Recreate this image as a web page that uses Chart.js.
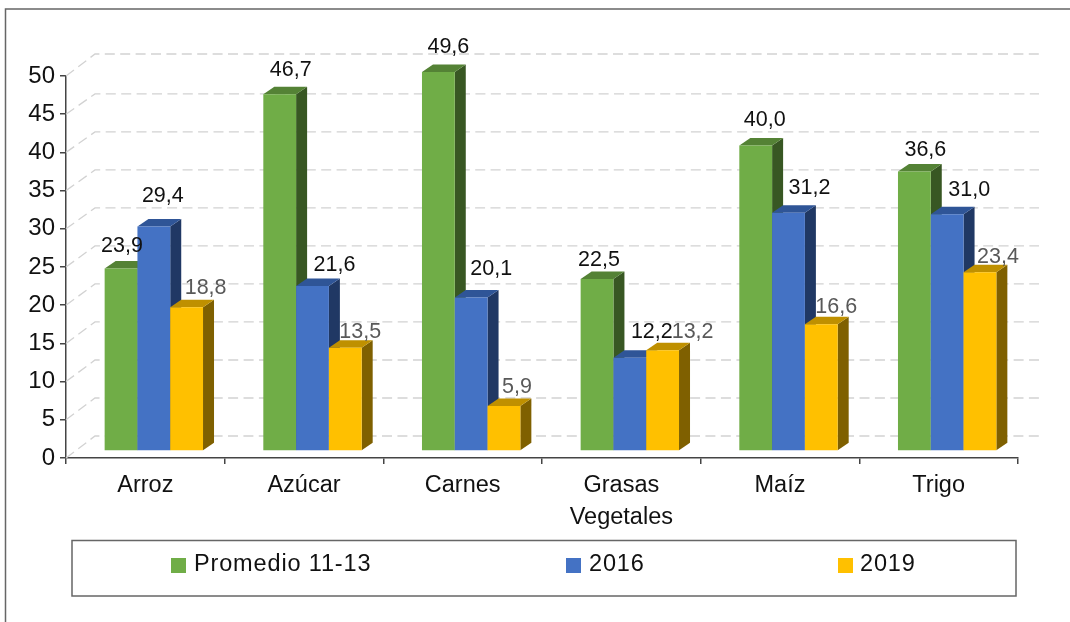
<!DOCTYPE html>
<html><head><meta charset="utf-8">
<style>html,body{margin:0;padding:0;background:#fff}canvas{display:block}</style>
<script src="https://cdn.jsdelivr.net/npm/chart.js@4"></script>
</head><body><canvas id="c" width="1070" height="622"></canvas>
<script>
const categories = [['Arroz'],['Azúcar'],['Carnes'],['Grasas','Vegetales'],['Maíz'],['Trigo']];
const promedio = [23.9,46.7,49.6,22.5,40.0,36.6];
const y2016 = [29.4,21.6,20.1,12.2,31.2,31.0];
const y2019 = [18.8,13.5,5.9,13.2,16.6,23.4];
const seriesNames = ['Promedio 11-13','2016','2019'];
const yTicks = [0,5,10,15,20,25,30,35,40,45,50];

const FONT = '"Liberation Sans", Arial, sans-serif';
const front = ['#70AD47','#4472C4','#FFC000'];
const side = ['#385723','#203864','#7F6000'];
const top3d = ['#548235','#2F5597','#BF9000'];
const labelColor = ['#111111','#111111','#595959'];
const labelShift = [
  [[1,-24],[11,-26],[10,-27],[2,-21],[9,-27],[11,-23]],
  [[9,-32],[22,-23],[20,-30],[22,-28],[21,-27],[22,-26]],
  [[19,-21],[15,-18],[13,-21],[30,-20],[15,-19],[18,-17]]
];
const OFF = {x:8.5,y:-7}, DEPTH = {x:11,y:-7.5}, WALL = {x:29,y:-22,scale:0.995}, WALL_RIGHT = 1039;

const threeD = {
  id:'threeD',
  beforeDatasetsDraw(chart){
    const {ctx,scales:{y},chartArea:a} = chart;
    ctx.save();
    ctx.strokeStyle='#d2d2d2'; ctx.lineWidth=1.3; ctx.setLineDash([10,5.4]);
    yTicks.forEach(v=>{
      const p=y.getPixelForValue(v);
      const back = v===y.max ? p+WALL.y : a.bottom+WALL.y-(a.bottom-p)*WALL.scale;
      ctx.beginPath(); ctx.moveTo(a.left,p); ctx.lineTo(a.left+WALL.x,back); ctx.lineTo(WALL_RIGHT,back); ctx.stroke();
    });
    ctx.restore();
  },
  beforeDatasetDraw(){ return false; },
  afterDatasetsDraw(chart){
    const {ctx} = chart;
    ctx.save(); ctx.translate(OFF.x,OFF.y);
    chart.data.datasets.forEach((ds,i)=>{
      const meta=chart.getDatasetMeta(i);
      meta.data.forEach(b=>{
        const l=b.x-b.width/2, r=b.x+b.width/2, t=b.y, bot=b.base;
        ctx.fillStyle=side[i];
        ctx.beginPath(); ctx.moveTo(r,t); ctx.lineTo(r+DEPTH.x,t+DEPTH.y); ctx.lineTo(r+DEPTH.x,bot+DEPTH.y); ctx.lineTo(r,bot); ctx.closePath(); ctx.fill();
        ctx.fillStyle=top3d[i];
        ctx.beginPath(); ctx.moveTo(l,t); ctx.lineTo(l+DEPTH.x,t+DEPTH.y); ctx.lineTo(r+DEPTH.x,t+DEPTH.y); ctx.lineTo(r,t); ctx.closePath(); ctx.fill();
      });
      meta.controller.draw();
    });
    ctx.restore();
    ctx.save();
    ctx.font='21.5px '+FONT; ctx.textAlign='center'; ctx.textBaseline='middle';
    chart.data.datasets.forEach((ds,i)=>{
      chart.getDatasetMeta(i).data.forEach((b,j)=>{
        ctx.fillStyle=labelColor[i];
        const s=labelShift[i][j];
        ctx.fillText(ds.data[j].toFixed(1).replace('.',','), b.x+OFF.x+s[0], b.y+OFF.y+s[1]+2);
      });
    });
    ctx.restore();
  },
  afterDraw(chart){
    const {ctx}=chart;
    ctx.save();
    ctx.strokeStyle='#666666'; ctx.lineWidth=1.5;
    ctx.strokeRect(5.5,9,1080,630);
    ctx.strokeRect(72,540.5,944,55.5);
    const xs=[[171,194],[566,589],[838,860]];
    ctx.font='23.5px '+FONT; ctx.textBaseline='middle'; ctx.textAlign='left';
    if('letterSpacing' in ctx) ctx.letterSpacing='0.85px';
    chart.data.datasets.forEach((ds,i)=>{
      ctx.fillStyle=front[i]; ctx.fillRect(xs[i][0],558,15,15);
      ctx.fillStyle='#111111'; ctx.fillText(ds.label,xs[i][1],565);
    });
    ctx.restore();
  }
};

new Chart(document.getElementById('c'),{
  type:'bar',
  data:{labels:categories,datasets:[
    {label:seriesNames[0],data:promedio,backgroundColor:front[0]},
    {label:seriesNames[1],data:y2016,backgroundColor:front[1]},
    {label:seriesNames[2],data:y2019,backgroundColor:front[2]}
  ]},
  options:{
    responsive:false,animation:false,
    layout:{padding:{left:0,top:76,right:52,bottom:0}},
    datasets:{bar:{barPercentage:1,categoryPercentage:0.62,borderWidth:0,clip:false}},
    plugins:{legend:{display:false},title:{display:false},tooltip:{enabled:false}},
    scales:{
      x:{
        afterFit(s){s.height=164;},
        border:{color:'#444444',width:1.5},
        grid:{drawOnChartArea:false,drawTicks:true,tickLength:6,color:'#444444',lineWidth:1.5},
        ticks:{color:'#111111',font:{family:FONT,size:23.5,lineHeight:1.34},padding:6,maxRotation:0,autoSkip:false}
      },
      y:{
        min:0,max:50,
        afterFit(s){s.width=66;},
        border:{color:'#444444',width:1.5},
        grid:{drawOnChartArea:false,drawTicks:true,tickLength:6,color:'#444444',lineWidth:1.5},
        ticks:{stepSize:5,color:'#111111',font:{family:FONT,size:24},padding:5}
      }
    }
  },
  plugins:[threeD]
});
</script></body></html>
